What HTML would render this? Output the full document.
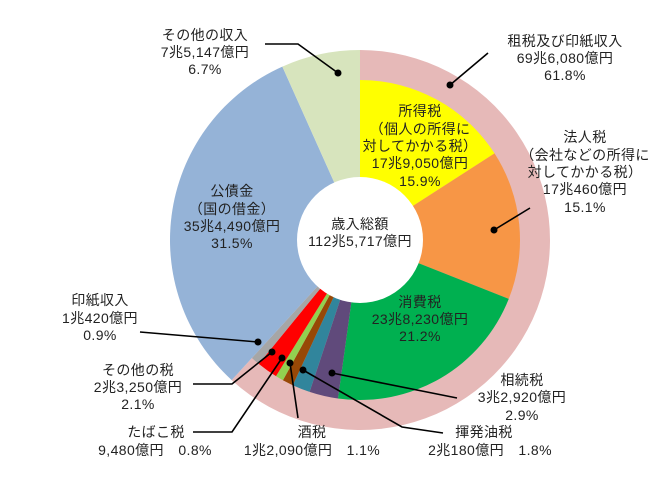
<!DOCTYPE html>
<html><head><meta charset="utf-8"><style>
html,body{margin:0;padding:0;background:#fff;width:670px;height:483px;overflow:hidden}
svg{display:block}
text{font-family:"Liberation Sans","Noto Sans CJK JP",sans-serif;font-size:14px;letter-spacing:0.4px;fill:#222;text-anchor:middle}
</style></head><body>
<svg id="s" width="670" height="483" viewBox="0 0 670 483" xmlns="http://www.w3.org/2000/svg">
<g id="pie"></g>
<circle cx="360" cy="240" r="63" fill="#fff"/>
<g stroke="#000" stroke-width="1.6" fill="none">
<polyline points="265,44 298,44 338,73"/>
<polyline points="488,53 450,85"/>
<polyline points="530,208 494,230"/>
<polyline points="140,332 258,342"/>
<polyline points="193,384 232,384 272,352"/>
<polyline points="193,432 232,432 282,358"/>
<polyline points="298,418 290,363"/>
<polyline points="443,433 402,427 303,370"/>
<polyline points="457,398 332,373"/>
</g>
<g fill="#000">
<circle cx="338" cy="73" r="3.5"/><circle cx="450" cy="85" r="3.5"/><circle cx="494" cy="230" r="3.5"/>
<circle cx="258" cy="342" r="3.5"/><circle cx="272" cy="352" r="3.5"/><circle cx="282" cy="358" r="3.5"/>
<circle cx="290" cy="363" r="3.5"/><circle cx="303" cy="370" r="3.5"/><circle cx="332" cy="373" r="3.5"/>
</g>
<text x="205" y="40">その他の収入</text><text x="205" y="57">7兆5,147億円</text><text x="205" y="74">6.7%</text>
<text x="565" y="46">租税及び印紙収入</text><text x="565" y="63">69兆6,080億円</text><text x="565" y="80">61.8%</text>
<text x="420" y="116">所得税</text><text x="420" y="134">（個人の所得に</text><text x="420" y="151">対してかかる税）</text><text x="420" y="168">17兆9,050億円</text><text x="420" y="186">15.9%</text>
<text x="585" y="142">法人税</text><text x="585" y="160">（会社などの所得に</text><text x="585" y="177">対してかかる税）</text><text x="585" y="194">17兆460億円</text><text x="585" y="212">15.1%</text>
<text x="232" y="196">公債金</text><text x="232" y="214">（国の借金）</text><text x="232" y="231">35兆4,490億円</text><text x="232" y="248">31.5%</text>
<text x="360" y="229">歳入総額</text><text x="360" y="246">112兆5,717億円</text>
<text x="420" y="307">消費税</text><text x="420" y="324">23兆8,230億円</text><text x="420" y="341">21.2%</text>
<text x="100" y="305">印紙収入</text><text x="100" y="323">1兆420億円</text><text x="100" y="340">0.9%</text>
<text x="138" y="375">その他の税</text><text x="138" y="392">2兆3,250億円</text><text x="138" y="409">2.1%</text>
<text x="156" y="437">たばこ税</text><text x="155" y="455">9,480億円　0.8%</text>
<text x="312" y="437">酒税</text><text x="312" y="455">1兆2,090億円　1.1%</text>
<text x="484" y="437">揮発油税</text><text x="490" y="455">2兆180億円　1.8%</text>
<text x="522" y="385">相続税</text><text x="522" y="402">3兆2,920億円</text><text x="522" y="420">2.9%</text>
</svg>
<script>
(function(){
var cx=360,cy=240,g=document.getElementById('pie');
function pt(r,a){var t=a*Math.PI/180;return [cx+r*Math.sin(t),cy-r*Math.cos(t)];}
function sec(r,a0,a1,col){var p0=pt(r,a0),p1=pt(r,a1),lg=(a1-a0)>180?1:0;
var p=document.createElementNS('http://www.w3.org/2000/svg','path');
p.setAttribute('d','M'+cx+','+cy+'L'+p0[0].toFixed(2)+','+p0[1].toFixed(2)+'A'+r+','+r+' 0 '+lg+' 1 '+p1[0].toFixed(2)+','+p1[1].toFixed(2)+'Z');
p.setAttribute('fill',col);g.appendChild(p);}
var tot=61.8*3.6;
sec(190,0,tot,'#e6b9b8');
var data=[[15.9,'#ffff00'],[15.1,'#f79646'],[21.2,'#00b050'],[2.9,'#604a7b'],[1.8,'#31859c'],[1.1,'#974806'],[0.8,'#92d050'],[2.1,'#ff0000'],[0.9,'#a6a6a6']];
var a=0;data.forEach(function(d){var b=a+d[0]*3.6;sec(160,a,b,d[1]);a=b;});
sec(190,tot,tot+31.5*3.6,'#95b3d7');
sec(190,tot+31.5*3.6,360,'#d7e4bd');
})();
</script>
</body></html>
